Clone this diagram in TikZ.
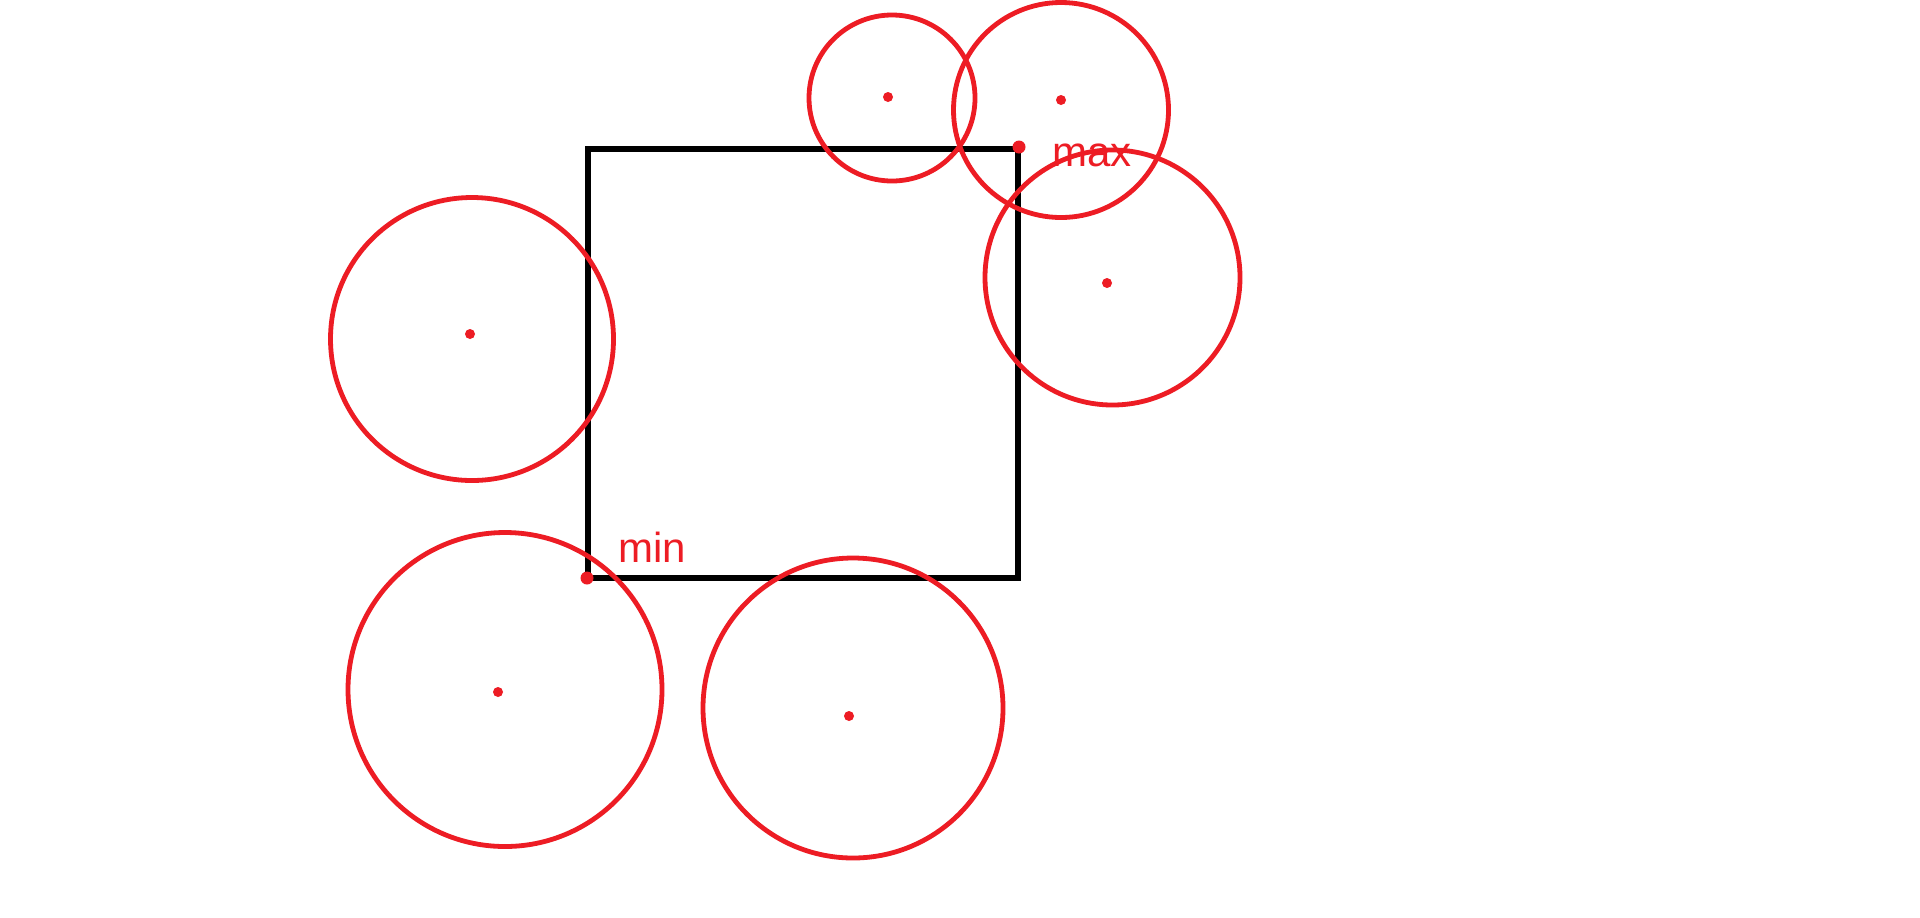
\documentclass[tikz,border=0pt]{standalone}
\usepackage{fontspec}
\setmainfont{Liberation Sans}
\definecolor{paintred}{RGB}{237,28,36}
\begin{document}
\begin{tikzpicture}[x=0.5pt,y=-0.5pt,
  ring/.style={draw=paintred,line width=2.4pt},
  blob/.style={fill=paintred},
  boxline/.style={draw=black,line width=2.6pt},
  lbl/.style={text=paintred,font=\fontsize{21}{24}\selectfont,inner sep=0pt,anchor=base west}]
\fill[white] (0,0) rectangle (1920,917);
\useasboundingbox (0,0) rectangle (1920,917);
% box
\coordinate (pmin) at (588,578);
\coordinate (pmax) at (1018,149);
\draw[boxline] (588,149) rectangle (1018,578);
% circles
\draw[ring] (892,98) circle (83);
\draw[ring] (1061,110) circle (107.5);
\draw[ring] (1112.5,277.5) circle (127.5);
\draw[ring] (472,339) circle (141.5);
\draw[ring] (505,689.5) circle (157);
\draw[ring] (853,708) circle (150);
% centre dots
\fill[blob] (888,97) circle (5);
\fill[blob] (1061,100) circle (5);
\fill[blob] (1107,283) circle (5);
\fill[blob] (470,334) circle (5);
\fill[blob] (498,692) circle (5);
\fill[blob] (849,716) circle (5);
% corner dots
\fill[blob] (1019,147) circle (6.5);
\fill[blob] (587,578) circle (6.5);
% labels
\node[lbl] (maxlbl) at (1052,166) {max};
\node[lbl] (minlbl) at (618,562) {min};
\end{tikzpicture}
\end{document}
